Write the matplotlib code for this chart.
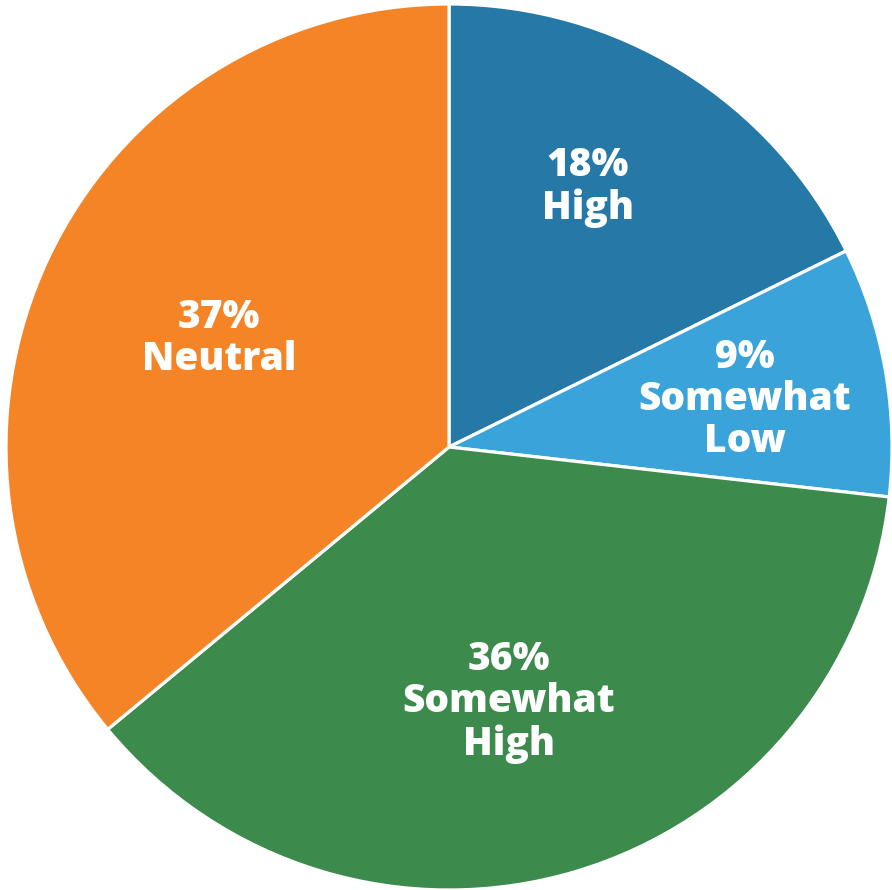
import matplotlib
matplotlib.use("Agg")
import matplotlib.pyplot as plt

categories = ["High", "Somewhat\nLow", "Somewhat\nHigh", "Neutral"]
# slice sizes as drawn in the picture (percent of circle)
values = [17.7, 9.1, 37.2, 36.0]
# percentages printed on the slices
pct_labels = ["18%", "9%", "36%", "37%"]
colors = ["#2679A6", "#3AA3DA", "#3C8A4C", "#F58427"]
# label centres in pixel coords (x, y from top)
label_pos = [(588, 187), (745, 399), (509, 702), (219, 339)]

W, H = 892, 890
fig = plt.figure(figsize=(W / 100, H / 100), dpi=100)
ax = fig.add_axes([0, 0, 1, 1])

cx, cy, r = 449, H - 447, 443
ax.pie(values, colors=colors, startangle=90, counterclock=False,
       center=(cx, cy), radius=r, frame=True,
       wedgeprops=dict(edgecolor="white", linewidth=2.3))
ax.set_xlim(0, W)
ax.set_ylim(0, H)
ax.set_aspect("auto")
ax.axis("off")

for cat, p, (px, py) in zip(categories, pct_labels, label_pos):
    ax.text(px, H - py, f"{p}\n{cat}", ha="center", va="center",
            color="white", fontsize=28, fontweight=800,
            family="Open Sans", linespacing=1.1)

fig.savefig("out.png", dpi=100)
